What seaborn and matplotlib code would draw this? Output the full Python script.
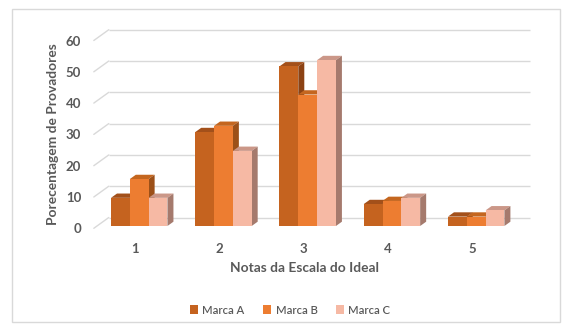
import numpy as np
import pandas as pd
import seaborn as sns
import matplotlib
matplotlib.use("Agg")
import matplotlib.pyplot as plt
from matplotlib.patches import Polygon, Rectangle, Patch
from matplotlib import transforms

# Scores on the ideal scale and share of tasters per brand (%)
notas = ["1", "2", "3", "4", "5"]
marca_a = [9, 30, 51, 7, 3]
marca_b = [15, 32, 42, 8, 3]
marca_c = [9, 24, 53, 9, 5]
marcas = ["Marca A", "Marca B", "Marca C"]
y_ticks = [0, 10, 20, 30, 40, 50, 60]

df = pd.DataFrame({
    "nota": notas * 3,
    "pct": marca_a + marca_b + marca_c,
    "marca": [m for m in marcas for _ in notas],
})

front = ["#C5631F", "#ED7D31", "#F6B9A4"]
top = ["#A3501A", "#C4661F", "#CB9788"]
side = ["#8C4213", "#9C5018", "#A57A6D"]
grid_c = "#D9D9D9"
text_c = "#595959"

sns.set_theme(style="white")
plt.rcParams["font.family"] = ["Lato", "DejaVu Sans"]

W, H = 565, 324
fig = plt.figure(figsize=(W / 100, H / 100), dpi=100)
renderer = fig.canvas.get_renderer()


def fit_size(text, width_px, weight="normal", base=10.0):
    """Font size at which `text` spans roughly width_px pixels."""
    t = fig.text(0, 0, text, fontsize=base, fontweight=weight)
    w = t.get_window_extent(renderer).width
    t.remove()
    return base * width_px / w


# axes placed in pixel terms: value 0 on the front plane at y=226px
px_per_unit = 3.13
ymax = 65
ax_left, ax_right = 97.1, 518.3
ax_bottom = 226
ax_top = ax_bottom - px_per_unit * ymax
ax = fig.add_axes([ax_left / W, (H - ax_bottom) / H,
                   (ax_right - ax_left) / W, (ax_bottom - ax_top) / H])

sns.barplot(data=df, x="nota", y="pct", hue="marca", palette=front,
            width=0.67, saturation=1, dodge=True, ax=ax, legend=False,
            linewidth=0, zorder=3)
ax.set_xlim(-0.5, 4.5)
ax.set_ylim(0, ymax)
for s in ax.spines.values():
    s.set_visible(False)

# pixel -> data conversions for depth offsets
xpx = (ax_right - ax_left) / 5.0
def dx(px):
    return px / xpx
def dy(px):
    return px / px_per_unit

# back wall gridlines and floor diagonals
wall_dx, wall_dy = 11.7, 8.5
front_dx, front_dy = -3.3, -2.3
for v in y_ticks:
    yb = v + dy(wall_dy)
    ax.plot([-0.5 + dx(wall_dx), 4.5 + dx(wall_dx)], [yb, yb], color=grid_c,
            lw=1.0, zorder=1, clip_on=False, solid_capstyle="butt")
    ax.plot([-0.5 + dx(front_dx), -0.5 + dx(wall_dx)],
            [v + dy(front_dy), yb], color=grid_c, lw=1.0, zorder=1, clip_on=False)

# top and side faces of each column
bar_dx, bar_dy = dx(6.0), dy(4.3)
n = len(notas)
patches = list(ax.patches)
order = sorted(range(len(patches)), key=lambda i: patches[i].get_x())
for rank, i in enumerate(order):
    p = patches[i]
    k = i // n
    x0, w, h = p.get_x(), p.get_width(), p.get_height()
    z = 3 + rank * 0.01
    p.set_zorder(z + 0.005)
    ax.add_patch(Polygon([(x0, h), (x0 + w, h), (x0 + w + bar_dx, h + bar_dy),
                          (x0 + bar_dx, h + bar_dy)], closed=True,
                         facecolor=top[k], edgecolor="none", zorder=z, clip_on=False))
    ax.add_patch(Polygon([(x0 + w, 0), (x0 + w + bar_dx, bar_dy),
                          (x0 + w + bar_dx, h + bar_dy), (x0 + w, h)], closed=True,
                         facecolor=side[k], edgecolor="none", zorder=z, clip_on=False))

ax.set_yticks(y_ticks)
ax.set_yticklabels([str(v) for v in y_ticks])
tick_size = 9.5
ax.tick_params(axis="y", length=0, pad=11.5, labelsize=tick_size, labelcolor=text_c)
ax.tick_params(axis="x", length=0, pad=12.5, labelsize=tick_size, labelcolor=text_c)
for lab in ax.get_yticklabels() + ax.get_xticklabels():
    lab.set_fontweight("bold")
xshift = transforms.ScaledTranslation(-4 / 100, 0, fig.dpi_scale_trans)
for lab in ax.get_xticklabels():
    lab.set_transform(lab.get_transform() + xshift)
yshift = transforms.ScaledTranslation(0, -2.3 / 100, fig.dpi_scale_trans)
for lab in ax.get_yticklabels():
    lab.set_transform(lab.get_transform() + yshift)

ax.set_xlabel("")
ax.set_ylabel("")
fig.text(304.5 / W, 1 - 268 / H, "Notas da Escala do Ideal", ha="center",
         va="center", fontsize=fit_size("Notas da Escala do Ideal", 148, "bold"),
         fontweight="bold", color=text_c)
fig.text(53 / W, 1 - 134 / H, "Porecentagem de Provadores", ha="center",
         va="center", rotation=90,
         fontsize=fit_size("Porecentagem de Provadores", 182, "bold"),
         fontweight="bold", color=text_c)

handles = [Patch(facecolor=c, edgecolor="none") for c in front]
leg_size = fit_size("Marca A", 42, "semibold")
fig.legend(handles, marcas, loc="center", bbox_to_anchor=(290 / W, 1 - 310 / H),
           ncol=3, frameon=False, handlelength=0.75,
           handleheight=0.75, handletextpad=0.4, columnspacing=1.6,
           labelcolor=text_c, prop={"weight": "semibold", "size": leg_size})

fig.patches.append(Rectangle((12 / W, 1 - 322 / H), 548 / W, 313 / H,
                             transform=fig.transFigure, fill=False,
                             edgecolor=grid_c, lw=1.0))

fig.savefig("out.png", dpi=100)
